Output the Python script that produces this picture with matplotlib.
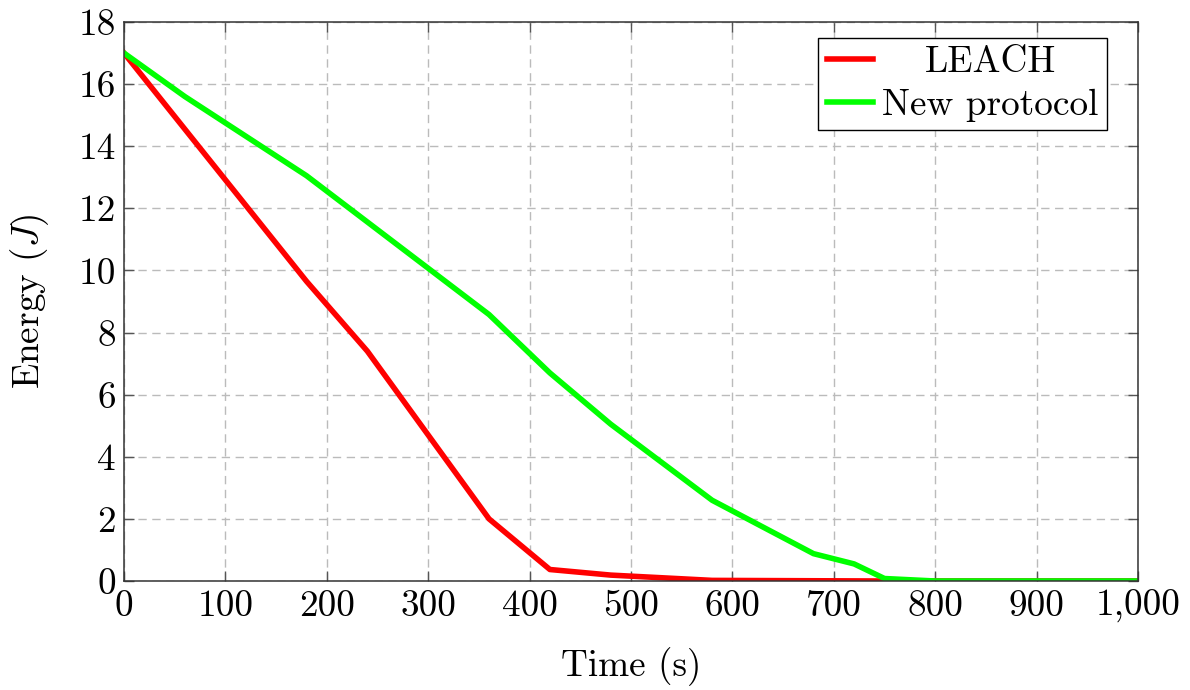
import matplotlib
matplotlib.use('Agg')
import matplotlib.pyplot as plt
from matplotlib.ticker import FuncFormatter

plt.rcParams['font.family'] = 'serif'
plt.rcParams['font.serif'] = ['cmr10']
plt.rcParams['mathtext.fontset'] = 'cm'
plt.rcParams['axes.formatter.use_mathtext'] = True

# data
leach_t = [0, 180, 240, 360, 420, 480, 580, 750, 1000]
leach_e = [17, 9.65, 7.4, 2.0, 0.37, 0.19, 0.02, 0.0, 0.0]
new_t = [0, 60, 180, 360, 420, 480, 580, 680, 720, 750, 800, 1000]
new_e = [17, 15.6, 13.05, 8.58, 6.7, 5.05, 2.6, 0.88, 0.55, 0.08, 0.0, 0.0]
x_ticks = [0, 100, 200, 300, 400, 500, 600, 700, 800, 900, 1000]
y_ticks = [0, 2, 4, 6, 8, 10, 12, 14, 16, 18]

fs = 26.8
fig = plt.figure(figsize=(11.9, 6.9), dpi=100)
ax = fig.add_axes([124 / 1190, 109 / 690, 1014 / 1190, 559 / 690])

ax.plot(leach_t, leach_e, color='#ff0000', linewidth=4.0, label='LEACH')
ax.plot(new_t, new_e, color='#00ff00', linewidth=4.0, label='New protocol')

ax.set_xlim(0, 1000)
ax.set_ylim(0, 18)
ax.set_xticks(x_ticks)
ax.set_yticks(y_ticks)
ax.xaxis.set_major_formatter(FuncFormatter(lambda v, p: f'{v:,.0f}'))
ax.yaxis.set_major_formatter(FuncFormatter(lambda v, p: f'{v:.0f}'))
ax.tick_params(axis='both', direction='in', length=7, width=1.0, color='#555555',
               labelsize=fs, top=True, right=True, pad=6)

ax.grid(True, color='#bbbbbb', linestyle=(0, (6, 4)), linewidth=1.0)
for s in ax.spines.values():
    s.set_linewidth(1.1)
    s.set_color('#333333')

ax.set_xlabel('Time (s)', fontsize=fs, labelpad=18)
ax.set_ylabel('Energy ($J$)', fontsize=fs, labelpad=20)

leg = ax.legend(loc='upper right', bbox_to_anchor=(0.9694, 0.9714), fontsize=fs,
                frameon=True, fancybox=False, edgecolor='black', framealpha=1.0,
                handlelength=1.25, handletextpad=0.25, borderpad=0.22,
                labelspacing=0.25, borderaxespad=0)
leg.get_frame().set_linewidth(1.0)

# centre the shorter legend entry like pgfplots does
fig.canvas.draw()
r = fig.canvas.get_renderer()
t0, t1 = leg.get_texts()
dx = (t1.get_window_extent(r).width - t0.get_window_extent(r).width) / 2
t0.set_x(dx)

fig.savefig('out.png', dpi=100)
